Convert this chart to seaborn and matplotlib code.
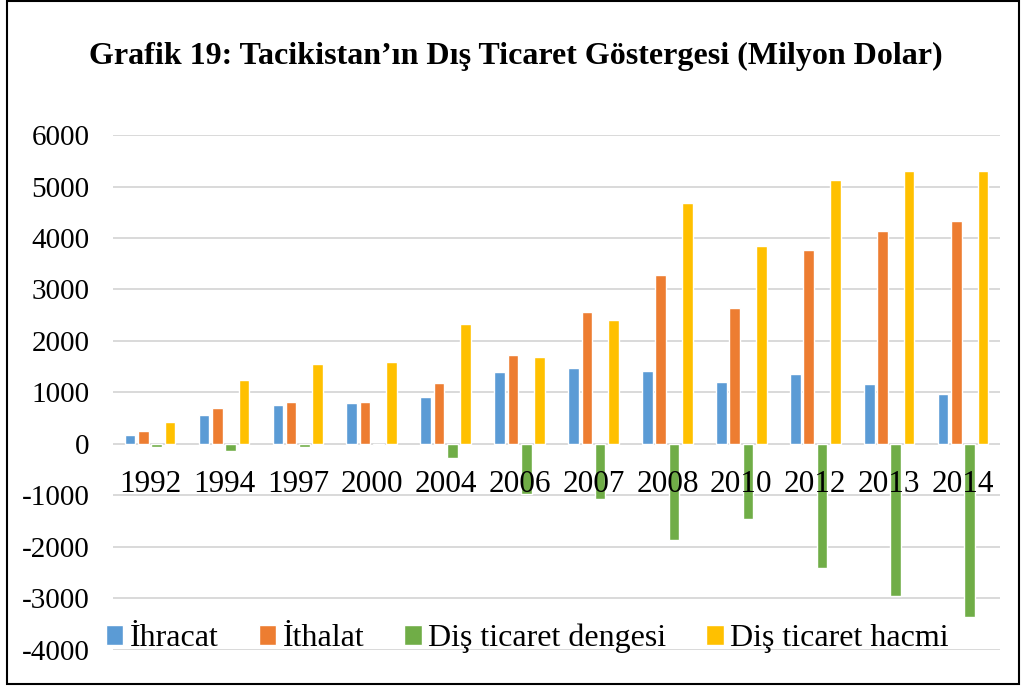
import seaborn as sns
import matplotlib.pyplot as plt
import pandas as pd
from matplotlib.patches import Rectangle

# Veriler (Milyon Dolar)
yillar = ['1992', '1994', '1997', '2000', '2004', '2006', '2007', '2008', '2010', '2012', '2013', '2014']
ihracat = [180, 560, 750, 790, 915, 1400, 1470, 1410, 1195, 1360, 1160, 975]
ithalat = [245, 690, 810, 810, 1190, 1720, 2555, 3275, 2650, 3770, 4140, 4330]
denge = [-65, -130, -60, -20, -275, -980, -1075, -1865, -1460, -2410, -2950, -3350]
hacim = [425, 1250, 1555, 1600, 2325, 1690, 2400, 4680, 3840, 5130, 5310, 5310]

seriler = ['İhracat', 'İthalat', 'Diş ticaret dengesi', 'Diş ticaret hacmi']
renkler = ['#5B9BD5', '#ED7D31', '#70AD47', '#FFC000']
y_ticks = list(range(-4000, 6001, 1000))

df = pd.DataFrame({'yil': yillar, seriler[0]: ihracat, seriler[1]: ithalat,
                   seriler[2]: denge, seriler[3]: hacim})
df = df.melt(id_vars='yil', var_name='seri', value_name='deger')

sns.set_theme(style="white")
plt.rcParams['font.family'] = ['Liberation Serif', 'DejaVu Serif']
plt.rcParams['axes.unicode_minus'] = False
plt.rcParams['text.color'] = 'black'

fig = plt.figure(figsize=(10.22, 6.86), dpi=100)
ax = fig.add_axes([0.1106, 0.0525, 0.8679, 0.7507])

# yatay kılavuz çizgileri çubukların altında
for v in y_ticks:
    ax.axhline(v, color='#d9d9d9', linewidth=1.4, zorder=0)

sns.barplot(data=df, x='yil', y='deger', hue='seri', hue_order=seriler,
            palette=renkler, width=0.72, gap=0.2, ax=ax, saturation=1, zorder=1)

# yıl etiketleri çubukların üstünde görünsün
ax.set_axisbelow(False)
ax.set_ylim(-4000, 6000)
ax.set_yticks(y_ticks)
ax.grid(False)
ax.set_xlabel('')
ax.set_ylabel('')
for s in ['top', 'right', 'left', 'bottom']:
    ax.spines[s].set_visible(False)
ax.spines['bottom'].set_position(('data', 0))
ax.tick_params(axis='x', length=0, pad=19, labelsize=22.5, labelcolor='black')
ax.tick_params(axis='y', length=0, pad=17, labelsize=21, labelcolor='black')

ax.legend(loc='center', bbox_to_anchor=(0.467, 0.022), ncol=4, frameon=False,
          fontsize=23, handlelength=0.55, handleheight=0.55, handletextpad=0.2,
          columnspacing=1.25, borderaxespad=0, labelcolor='black')

fig.text(0.505, 0.917, 'Grafik 19: Tacikistan’ın Dış Ticaret Göstergesi (Milyon Dolar)',
         ha='center', va='center', fontsize=23, fontweight='bold', color='black')

fig.add_artist(Rectangle((0.0068, 0.003), 0.990, 0.9955, transform=fig.transFigure,
                         fill=False, edgecolor='black', linewidth=1.5))

fig.savefig('out.png', dpi=100)
